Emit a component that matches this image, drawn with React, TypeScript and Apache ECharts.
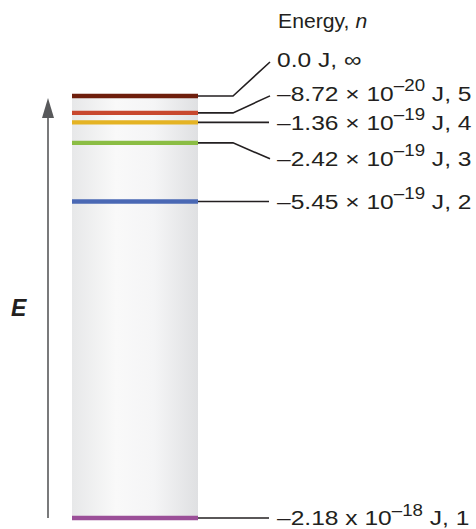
import React, { useEffect, useRef } from 'react';
import * as echarts from 'echarts';

// Energy levels of the hydrogen atom (values in units of 1e-19 J)
const levelNames = ['∞', '5', '4', '3', '2', '1'];
const energies = [0, -0.872, -1.36, -2.42, -5.45, -21.8];
const mantissas = ['0.0', '–8.72', '–1.36', '–2.42', '–5.45', '–2.18'];
const exponents = ['', '–20', '–19', '–19', '–19', '–18'];
const timesSigns = ['', '×', '×', '×', '×', 'x'];
const levelColors = ['#6e1e0c', '#c8482e', '#e4b324', '#8bbd44', '#4a68b4', '#9b4f98'];
// pixel offsets of each label from its level (for the bent connector lines)
const labelOffsets = [-36, -19, 0, 16, 0, 0];

const axisMin = -21.8;
const axisMax = 0;

const FONT = '"Liberation Sans", Arial, Helvetica, sans-serif';
const INK = '#231f20';
const MAIN_SIZE = 21;
const SUP_SIZE = 16;
const STRETCH = 1.17;

let measureCtx: CanvasRenderingContext2D | null = null;
function textWidth(text: string, size: number): number {
  if (!measureCtx) {
    const c = document.createElement('canvas');
    measureCtx = c.getContext('2d');
  }
  if (!measureCtx) return text.length * size * 0.55;
  measureCtx.font = `${size}px ${FONT}`;
  return measureCtx.measureText(text).width;
}

function labelParts(i: number): { text: string; sup: boolean }[] {
  if (!exponents[i]) return [{ text: `${mantissas[i]} J, ${levelNames[i]}`, sup: false }];
  return [
    { text: `${mantissas[i]} ${timesSigns[i]} 10`, sup: false },
    { text: exponents[i], sup: true },
    { text: ` J, ${levelNames[i]}`, sup: false },
  ];
}

function labelElements(i: number) {
  const parts = labelParts(i);
  let x = 0;
  return parts.map((p) => {
    const size = p.sup ? SUP_SIZE : MAIN_SIZE;
    const el = {
      type: 'text',
      x,
      y: p.sup ? -8 : 0,
      style: {
        text: p.text,
        fontSize: size,
        fontFamily: FONT,
        fill: INK,
        align: 'left',
        verticalAlign: 'middle',
      },
    };
    x += textWidth(p.text, size);
    return el;
  });
}

export default function App() {
  const ref = useRef<HTMLDivElement>(null);

  useEffect(() => {
    if (!ref.current) return;
    const chart = echarts.init(ref.current, undefined, { renderer: 'svg' });

    const option: any = {
      animation: false,
      backgroundColor: '#ffffff',
      grid: { left: 72, right: 278, top: 96, bottom: 11 },
      xAxis: { type: 'value', min: 0, max: 1, show: false },
      yAxis: { type: 'value', min: axisMin, max: axisMax, show: false },
      graphic: [
        {
          type: 'text',
          left: 11,
          top: 296,
          style: {
            text: 'E',
            font: `italic bold 23px ${FONT}`,
            fill: INK,
          },
        },
        {
          type: 'group',
          x: 278,
          y: 21,
          scaleX: 1.06,
          children: [
            {
              type: 'text',
              x: 0,
              y: 0,
              style: {
                text: 'Energy, ',
                fontSize: 20,
                fontFamily: FONT,
                fill: INK,
                align: 'left',
                verticalAlign: 'middle',
              },
            },
            {
              type: 'text',
              x: textWidth('Energy, ', 20),
              y: 0,
              style: {
                text: 'n',
                fontSize: 20,
                fontFamily: FONT,
                fontStyle: 'italic',
                fill: INK,
                align: 'left',
                verticalAlign: 'middle',
              },
            },
          ],
        },
      ],
      series: [
        {
          type: 'custom',
          z: 1,
          silent: true,
          data: [[axisMax, axisMin]],
          renderItem: (params: any, api: any) => {
            const top = api.coord([0, api.value(0)]);
            const bot = api.coord([1, api.value(1)]);
            const left = top[0];
            const right = bot[0];
            const y0 = top[1] - 2;
            const y1 = bot[1] + 2;
            const ax = left - 24;
            return {
              type: 'group',
              children: [
                {
                  type: 'rect',
                  shape: { x: left, y: y0, width: right - left, height: y1 - y0 },
                  style: {
                    fill: new echarts.graphic.LinearGradient(0, 0, 1, 0, [
                      { offset: 0, color: '#e7e8e9' },
                      { offset: 0.35, color: '#f9f9f9' },
                      { offset: 0.65, color: '#f5f5f6' },
                      { offset: 1, color: '#dfe0e2' },
                    ]),
                  },
                },
                {
                  type: 'line',
                  shape: { x1: ax, y1: y1 - 2, x2: ax, y2: y0 + 20 },
                  style: { stroke: '#58595b', lineWidth: 1.6 },
                },
                {
                  type: 'polygon',
                  shape: { points: [[ax, y0 + 4], [ax - 6, y0 + 24], [ax + 6, y0 + 24]] },
                  style: { fill: '#58595b' },
                },
              ],
            };
          },
        },
        {
          type: 'custom',
          z: 2,
          silent: true,
          data: energies.map((e) => [e]),
          encode: { y: 0 },
          renderItem: (params: any, api: any) => {
            const i = params.dataIndex;
            const e = api.value(0);
            const p0 = api.coord([0, e]);
            const p1 = api.coord([1, e]);
            const y = p0[1];
            const xl = p1[0];
            const off = labelOffsets[i];
            const ly = y + off;
            const pts =
              off === 0
                ? [[xl, y], [xl + 71, y]]
                : [[xl, y], [xl + 35, y], [xl + 72, ly + (off < 0 ? 2 : 0)]];
            return {
              type: 'group',
              children: [
                {
                  type: 'rect',
                  shape: { x: p0[0], y: y - 2.2, width: xl - p0[0], height: 4.4 },
                  style: { fill: levelColors[i] },
                },
                {
                  type: 'polyline',
                  shape: { points: pts },
                  style: { stroke: INK, lineWidth: 1.6, fill: 'none' },
                },
                {
                  type: 'group',
                  x: xl + 79,
                  y: ly,
                  scaleX: STRETCH,
                  children: labelElements(i),
                },
              ],
            };
          },
        },
      ],
    };

    chart.setOption(option);
    return () => chart.dispose();
  }, []);

  return (
    <div
      ref={ref}
      style={{ position: 'fixed', left: 0, top: 0, width: 476, height: 529, background: '#fff' }}
    />
  );
}
